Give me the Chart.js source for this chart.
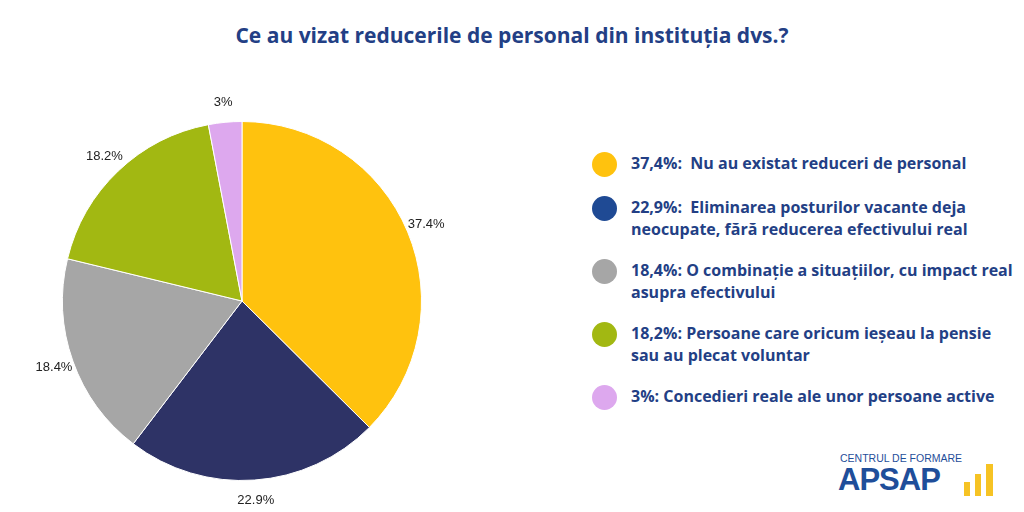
<!DOCTYPE html>
<html><head><meta charset="utf-8">
<script src="https://cdn.jsdelivr.net/npm/chart.js"></script>
<style>
body{margin:0;width:1024px;height:512px;background:#fff;font-family:"Open Sans","Liberation Sans",sans-serif;position:relative;overflow:hidden}
#title{position:absolute;top:21px;left:0;width:1024px;text-align:center;color:#233f85;font-weight:700;font-size:21px}
#wrap{position:absolute;left:0;top:71px;width:484px;height:441px}
#legend{position:absolute;left:592px;top:152px;width:430px}
.item{display:flex;align-items:flex-start;margin-bottom:19px;color:#233f85;font-weight:700;font-size:16px;line-height:22px}
.dot{width:25px;height:25px;border-radius:50%;flex:none;margin-right:14px;margin-top:0}
#logo{position:absolute;left:838px;top:452px;color:#1f4e9a;font-family:"Liberation Sans",sans-serif}
</style></head><body>
<div id="title">Ce au vizat reducerile de personal din instituția dvs.?</div>
<div id="wrap"><canvas id="c"></canvas></div>
<div id="legend"></div>
<div id="logo">
<div style="font-size:10.5px;position:absolute;left:2px;top:0;white-space:nowrap">CENTRUL DE FORMARE</div>
<div style="font-size:31px;font-weight:900;position:absolute;left:0;top:10px;letter-spacing:-1px">APSAP</div>
<div style="position:absolute;left:126px;top:30px;width:6px;height:14px;background:#f6c324"></div>
<div style="position:absolute;left:137px;top:22px;width:6px;height:22px;background:#f6c324"></div>
<div style="position:absolute;left:148px;top:12px;width:7px;height:32px;background:#f6c324"></div>
</div>
<script>
const labels=["Nu au existat reduceri de personal","Eliminarea posturilor vacante deja neocupate, fără reducerea efectivului real","O combinație a situațiilor, cu impact real asupra efectivului","Persoane care oricum ieșeau la pensie sau au plecat voluntar","Concedieri reale ale unor persoane active"];
const values=[37.4,22.9,18.4,18.2,3];
const sliceLabels=["37.4%","22.9%","18.4%","18.2%","3%"];
const legendLabels=["37,4%:&nbsp; Nu au existat reduceri de personal","22,9%:&nbsp; Eliminarea posturilor vacante deja neocupate, fără reducerea efectivului real","18,4%: O combinație a situațiilor, cu impact real asupra efectivului","18,2%: Persoane care oricum ieșeau la pensie sau au plecat voluntar","3%: Concedieri reale ale unor persoane active"];
const colors=["#FFC20E","#2E3366","#A6A6A6","#A2B812","#DDA8EE"];
const legendColors=["#FFC20E","#1F4A94","#A6A6A6","#A2B812","#DDA8EE"];
const lg=document.getElementById('legend');
legendLabels.forEach((t,i)=>{lg.innerHTML+=`<div class="item"><div class="dot" style="background:${legendColors[i]}"></div><div>${t}</div></div>`});
const outLabels={id:'out',afterDatasetsDraw(ch){const ctx=ch.ctx;const m=ch.getDatasetMeta(0);ctx.save();ctx.font='13px "Liberation Sans",sans-serif';ctx.fillStyle='#222';ctx.textAlign='center';ctx.textBaseline='middle';
m.data.forEach((a,i)=>{const ang=(a.startAngle+a.endAngle)/2;const r=a.outerRadius+20;ctx.fillText(sliceLabels[i],a.x+Math.cos(ang)*r,a.y+Math.sin(ang)*r);});ctx.restore();}};
new Chart(document.getElementById('c'),{type:'pie',data:{labels,datasets:[{data:values,backgroundColor:colors,borderColor:'#fff',borderWidth:1}]},
options:{responsive:true,maintainAspectRatio:false,animation:false,layout:{padding:{top:50,bottom:31,left:62,right:62}},plugins:{legend:{display:false},tooltip:{enabled:false}}},plugins:[outLabels]});
</script></body></html>
